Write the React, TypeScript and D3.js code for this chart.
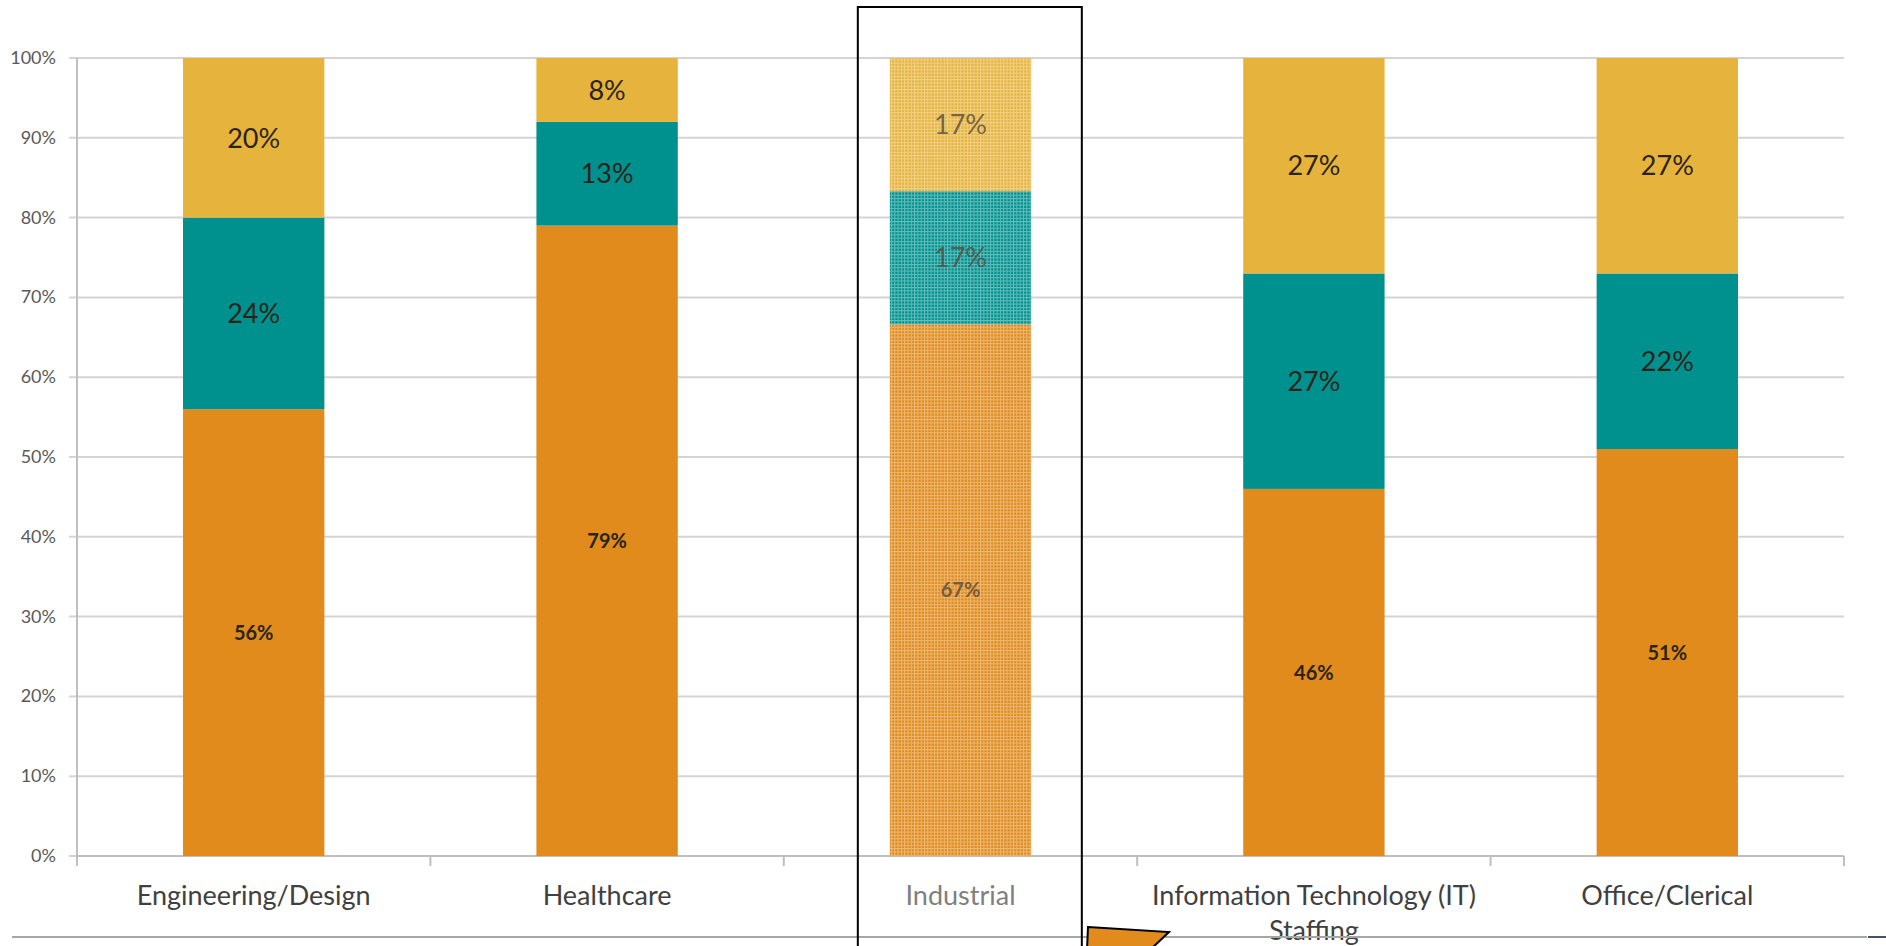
import React from "react";
import * as d3 from "d3";

const categories = ["Engineering/Design", "Healthcare", "Industrial", "Information Technology (IT) Staffing", "Office/Clerical"];
const seriesKeys = ["s1", "s2", "s3"];
const s1Values = [56, 79, 66.7, 46, 51];
const s2Values = [24, 13, 16.7, 27, 22];
const s3Values = [20, 8, 16.7, 27, 27];
const yTicks = [0, 10, 20, 30, 40, 50, 60, 70, 80, 90, 100];
const highlighted = "Industrial";

const W = 1886;
const H = 946;
const X0 = 77, X1 = 1844, YTOP = 58, YBOT = 856;
const colors = ["#E08B1C", "#00918E", "#E6B33C"];
const FONT = "Lato, 'Open Sans', sans-serif";

export default function App() {
  const rows = categories.map((c, i) => {
    const vals = [s1Values[i], s2Values[i], s3Values[i]];
    const total = d3.sum(vals);
    return { cat: c, vals, total, s1: vals[0] / total * 100, s2: vals[1] / total * 100, s3: vals[2] / total * 100 };
  });
  const stacked = d3.stack<any>().keys(seriesKeys)(rows);
  const x = d3.scaleBand<string>().domain(categories).range([X0, X1]).paddingInner(0.6).paddingOuter(0.3);
  const xSep = d3.scaleBand<string>().domain(categories).range([X0, X1]).padding(0);
  const y = d3.scaleLinear().domain([0, 100]).range([YBOT, YTOP]);

  const hlX = x(highlighted)!;
  const bw = x.bandwidth();

  return (
    <svg width={W} height={H} style={{ position: "absolute", left: 0, top: 0, background: "#fff" }} fontFamily={FONT}>
      <defs>
        {colors.map((c, i) => (
          <pattern key={i} id={`pat${i}`} width={3.3} height={3.3} patternUnits="userSpaceOnUse">
            <rect width={3.3} height={3.3} fill={c} />
            <path d="M0 0.5 H3.3 M0.5 0 V3.3" stroke="#fff" strokeOpacity={0.4} strokeWidth={1} />
          </pattern>
        ))}
      </defs>
      <rect width={W} height={H} fill="#fff" />
      {/* gridlines */}
      {yTicks.map((t) => (
        <g key={t}>
          <line x1={X0 - 8} x2={X1} y1={y(t)} y2={y(t)} stroke="#D4D4D4" strokeWidth={2} />
          <text x={56} y={y(t) + 6} textAnchor="end" fontSize={18} fill="#595959">{t}%</text>
        </g>
      ))}
      {/* axes */}
      <line x1={X0} x2={X0} y1={YTOP} y2={YBOT + 10} stroke="#BFBFBF" strokeWidth={2} />
      <line x1={X0} x2={X1} y1={YBOT} y2={YBOT} stroke="#BFBFBF" strokeWidth={2} />
      {categories.map((c) => (
        <line key={c} x1={xSep(c)! + xSep.bandwidth()} x2={xSep(c)! + xSep.bandwidth()} y1={YBOT} y2={YBOT + 10} stroke="#BFBFBF" strokeWidth={2} />
      ))}
      {/* bars */}
      {stacked.map((layer, si) =>
        layer.map((d, i) => {
          const cat = categories[i];
          const hl = cat === highlighted;
          return (
            <rect key={`${si}-${i}`} x={x(cat)} width={bw} y={y(d[1])} height={y(d[0]) - y(d[1])}
              fill={hl ? `url(#pat${si})` : colors[si]} />
          );
        })
      )}
      {/* labels */}
      {stacked.map((layer, si) =>
        layer.map((d, i) => {
          const cat = categories[i];
          const hl = cat === highlighted;
          const v = Math.round(rows[i].vals[si]);
          const cy = (y(d[0]) + y(d[1])) / 2;
          const fs = si === 0 ? 20 : 27;
          return (
            <text key={`l${si}-${i}`} x={x(cat)! + bw / 2} y={cy + fs * 0.36} textAnchor="middle" fontSize={fs}
              fontWeight={si === 0 ? 700 : 400}
              fill={hl ? "#5a4a3a" : "#2a2418"} fillOpacity={hl ? 0.8 : 1}>{v}%</text>
          );
        })
      )}
      {/* category labels */}
      {categories.map((c) => {
        const cx = x(c)! + bw / 2;
        const hl = c === highlighted;
        const parts = c === "Information Technology (IT) Staffing" ? ["Information Technology (IT)", "Staffing"] : [c];
        return (
          <text key={c} x={cx} y={905} textAnchor="middle" fontSize={27} fill={hl ? "#7f7f7f" : "#404040"}>
            {parts.map((p, k) => (
              <tspan key={k} x={cx} dy={k === 0 ? 0 : 35}>{p}</tspan>
            ))}
          </text>
        );
      })}
      {/* bottom rule */}
      <line x1={12} x2={1867} y1={937} y2={937} stroke="#A6A6A6" strokeWidth={2} />
      <line x1={1868} x2={W} y1={937} y2={937} stroke="#44546A" strokeWidth={2} />
      {/* highlight box */}
      <rect x={hlX - 32} y={7} width={224} height={H + 10} fill="none" stroke="#000" strokeWidth={2} />
      {/* orange arrow fragment */}
      <polygon points="1088,927 1169,932 1150,950 1087,950" fill="#E08B1C" stroke="#000" strokeWidth={2} />
    </svg>
  );
}
